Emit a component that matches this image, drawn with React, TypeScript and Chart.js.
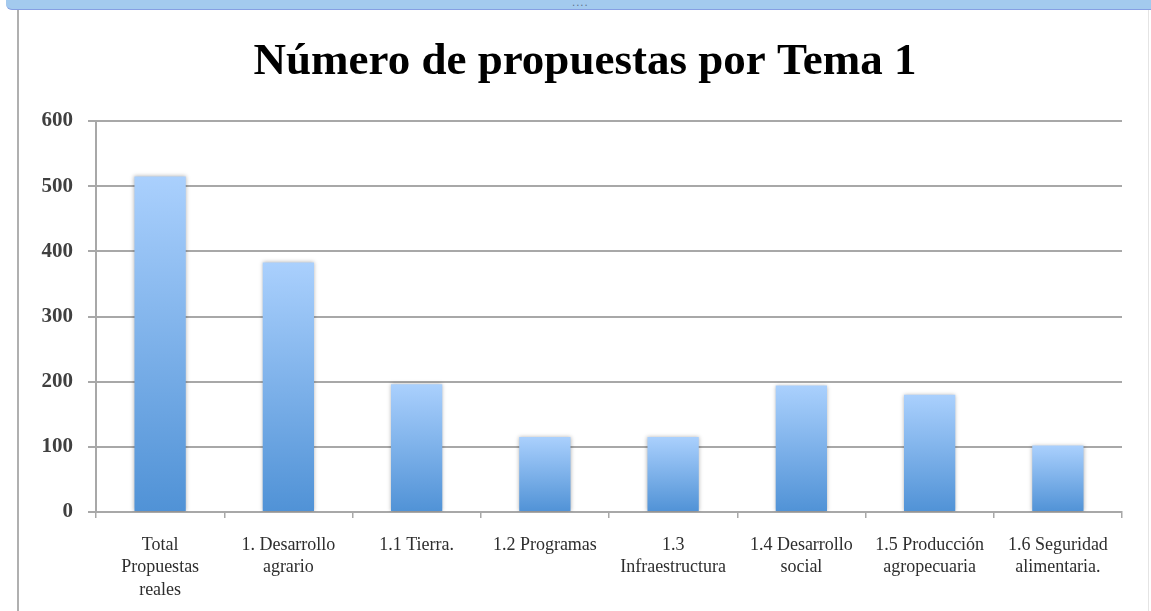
import React, { useEffect, useRef } from "react";
import { Chart, registerables } from "chart.js";

Chart.register(...registerables);

const TITLE = "Número de propuestas por Tema 1";
const CATEGORIES: string[][] = [
  ["Total", "Propuestas", "reales"],
  ["1. Desarrollo", "agrario"],
  ["1.1 Tierra."],
  ["1.2 Programas"],
  ["1.3", "Infraestructura"],
  ["1.4 Desarrollo", "social"],
  ["1.5 Producción", "agropecuaria"],
  ["1.6 Seguridad", "alimentaria."],
];
const VALUES: number[] = [515, 383, 196, 115, 115, 194, 180, 102];
const Y_MIN = 0;
const Y_MAX = 600;
const Y_STEP = 100;

const GRID = "#a8a8a8";
const TEXT = "#2e2e2e";

const shadowPlugin = {
  id: "barShadow",
  beforeDatasetsDraw(chart: any) {
    const c = chart.ctx;
    c.save();
    c.shadowColor = "rgba(0,0,0,0.3)";
    c.shadowBlur = 4;
    c.shadowOffsetX = 0;
    c.shadowOffsetY = 0;
  },
  afterDatasetsDraw(chart: any) {
    chart.ctx.restore();
  },
};

export default function App() {
  const ref = useRef<HTMLCanvasElement | null>(null);

  useEffect(() => {
    if (!ref.current) return;
    const chart = new Chart(ref.current, {
      type: "bar",
      data: {
        labels: CATEGORIES,
        datasets: [
          {
            data: VALUES,
            barPercentage: 0.4,
            categoryPercentage: 1.0,
            borderWidth: 0,
            backgroundColor: (ctx: any) => {
              const ch = ctx.chart;
              if (!ch.chartArea || ctx.raw == null) return "#7fb0ea";
              const yTop = ch.scales.y.getPixelForValue(ctx.raw);
              const yBot = ch.scales.y.getPixelForValue(0);
              const g = ch.ctx.createLinearGradient(0, yTop, 0, yBot);
              g.addColorStop(0, "#aad0fd");
              g.addColorStop(1, "#5092d6");
              return g;
            },
          },
        ],
      },
      options: {
        animation: false,
        responsive: false,
        devicePixelRatio: 1,
        layout: { padding: { left: 10, right: 10, top: 0, bottom: 0 } },
        plugins: {
          legend: { display: false },
          tooltip: { enabled: false },
          title: {
            display: true,
            text: TITLE,
            color: "#000",
            font: { family: "'Liberation Serif'", size: 45, weight: "bold", lineHeight: 1.2 },
            padding: { top: 24, bottom: 32 },
          },
        },
        scales: {
          x: {
            grid: {
              display: true,
              drawOnChartArea: false,
              drawTicks: true,
              tickLength: 6,
              color: GRID,
              lineWidth: 1.5,
            },
            border: { display: true, color: GRID, width: 2 },
            ticks: {
              color: TEXT,
              font: { family: "'Liberation Serif'", size: 18, lineHeight: 1.25 },
              padding: 16,
              maxRotation: 0,
              autoSkip: false,
            },
            afterFit: (s: any) => {
              s.height = 99;
            },
          },
          y: {
            min: Y_MIN,
            max: Y_MAX,
            grid: { color: GRID, lineWidth: 2, tickLength: 8 },
            border: { display: true, color: GRID, width: 2 },
            ticks: {
              stepSize: Y_STEP,
              color: "#404040",
              font: { family: "'Liberation Serif'", size: 21, weight: "bold" },
              padding: 15,
            },
            afterFit: (s: any) => {
              s.width = 67;
            },
          },
          yRightSpace: {
            type: "linear",
            position: "right",
            display: true,
            grid: { display: false, drawTicks: false },
            border: { display: false },
            ticks: { display: false },
            afterFit: (s: any) => {
              s.width = 19;
            },
          },
        },
      },
      plugins: [shadowPlugin],
    } as any);
    return () => chart.destroy();
  }, []);

  return (
    <div
      style={{
        position: "absolute",
        left: 0,
        top: 0,
        width: 1151,
        height: 611,
        background: "#fff",
        overflow: "hidden",
      }}
    >
      <div
        style={{
          position: "absolute",
          left: 6,
          top: -8,
          width: 1160,
          height: 17,
          background: "#a3caee",
          borderBottom: "1px solid #869fe2",
          borderRadius: 6,
        }}
      />
      <div
        style={{
          position: "absolute",
          left: 572,
          top: -3,
          fontSize: 10,
          color: "#5a6f8a",
          fontFamily: "'DejaVu Sans'",
          letterSpacing: 1,
        }}
      >
        ....
      </div>
      <div
        style={{
          position: "absolute",
          left: 17,
          top: 10,
          width: 2,
          height: 601,
          background: "#b0b0b0",
        }}
      />
      <div
        style={{
          position: "absolute",
          left: 1148,
          top: 10,
          width: 1,
          height: 601,
          background: "#e4e4e4",
        }}
      />
      <canvas
        ref={ref}
        width={1132}
        height={600}
        style={{ position: "absolute", left: 19, top: 11, width: 1132, height: 600 }}
      />
    </div>
  );
}
